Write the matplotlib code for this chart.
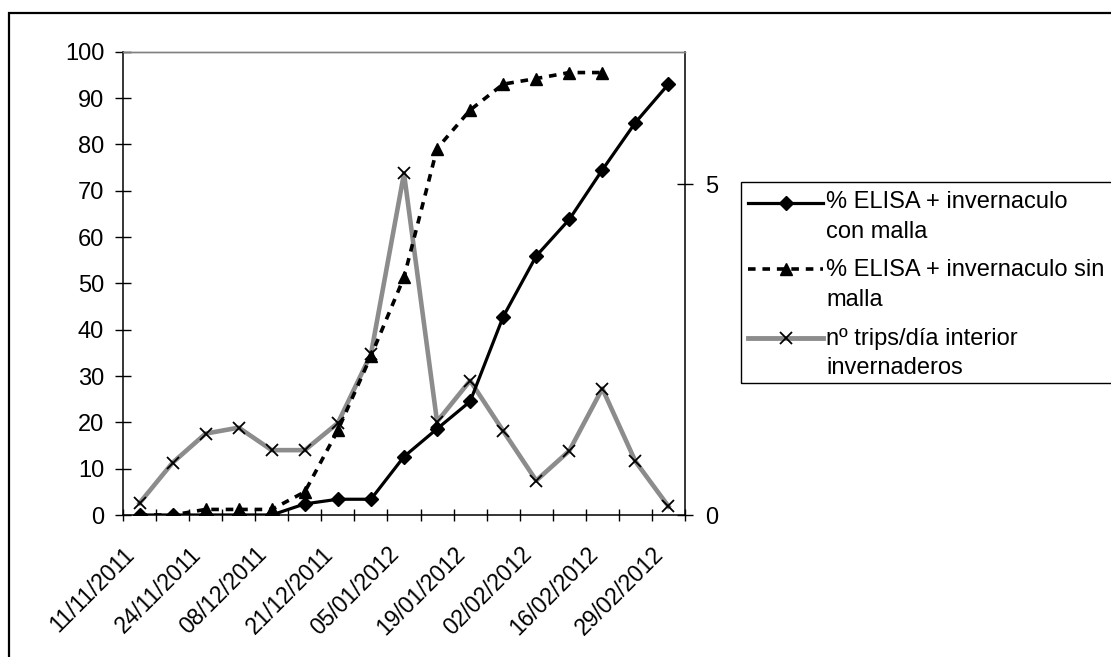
import matplotlib
matplotlib.use("Agg")
import matplotlib.pyplot as plt
from matplotlib.lines import Line2D
from matplotlib.patches import Rectangle
from matplotlib.transforms import ScaledTranslation

plt.rcParams['font.family'] = ['Liberation Sans', 'DejaVu Sans']

# ---- data ----
dates = ["11/11/2011", "17/11/2011", "24/11/2011", "01/12/2011", "08/12/2011",
         "15/12/2011", "21/12/2011", "28/12/2011", "05/01/2012", "12/01/2012",
         "19/01/2012", "26/01/2012", "02/02/2012", "09/02/2012", "16/02/2012",
         "23/02/2012", "29/02/2012"]
elisa_con_malla = [0, 0, 0, 0, 0, 2.4, 3.4, 3.4, 12.6, 18.6, 24.5, 42.8, 55.9,
                   63.8, 74.5, 84.7, 93.0]
elisa_sin_malla = [0, 0, 1.2, 1.2, 1.2, 5.0, 18.3, 34.3, 51.3, 79.1, 87.4, 93.0,
                   94.2, 95.5, 95.5]
trips_dia = [0.18, 0.79, 1.23, 1.32, 0.98, 0.98, 1.39, 2.43, 5.16, 1.41, 2.03,
             1.27, 0.52, 0.97, 1.91, 0.81, 0.13]
legend_lines = [["% ELISA + invernaculo", "con malla"],
                ["% ELISA + invernaculo sin", "malla"],
                ["nº trips/día interior", "invernaderos"]]

W, H = 1111, 657
fig = plt.figure(figsize=(W / 100, H / 100), dpi=100)
fig.patch.set_facecolor('white')

ax = fig.add_axes([123 / W, 1 - 515 / H, (685 - 123) / W, (515 - 51.7) / H])
ax2 = ax.twinx()
ax.set_zorder(ax2.get_zorder() + 1)
ax.patch.set_visible(False)

n = len(dates)
x = list(range(n))
GRAY = '#8c8c8c'
FS = 17
FS_X = 16.5

LW_SOLID, LW_DASH, LW_GRAY = 2.3, 2.6, 3.3
DASHES = [2.1, 1.9]
MS_D, MS_T, MS_X = 7.2, 9, 9

ax2.plot(x[:len(trips_dia)], trips_dia, color=GRAY, lw=LW_GRAY, marker='x',
         markersize=MS_X, markeredgecolor='black', markeredgewidth=1.3,
         solid_joinstyle='round')
l2, = ax.plot(x[:len(elisa_sin_malla)], elisa_sin_malla, color='black', lw=LW_DASH,
              marker='^', markersize=MS_T, markerfacecolor='black')
l2.set_dashes(DASHES)
ax.plot(x[:len(elisa_con_malla)], elisa_con_malla, color='black', lw=LW_SOLID,
        marker='D', markersize=MS_D, markerfacecolor='black')

ax.set_xlim(-0.5, n - 0.5)
ax.set_ylim(0, 100)
ax2.set_ylim(0, 7)
ax.set_yticks(range(0, 101, 10))
ax2.set_yticks([0, 5])

ax.set_xticks([i - 0.5 for i in range(n + 1)], minor=False)
ax.set_xticklabels([])
ax.set_xticks(x[::2], minor=True)
ax.set_xticklabels(dates[::2], minor=True, rotation=45, ha='right', va='top',
                   fontsize=FS_X, rotation_mode='default')
shift = ScaledTranslation(-9 / 100, 0, fig.dpi_scale_trans)
for lab in ax.get_xticklabels(minor=True):
    lab.set_transform(lab.get_transform() + shift)
ax.tick_params(axis='x', which='minor', length=0, pad=20)
ax.tick_params(axis='x', which='major', direction='inout', length=9, width=1)
ax.tick_params(axis='y', direction='inout', length=11, width=1, labelsize=FS, pad=8)
ax2.tick_params(axis='y', direction='inout', length=11, width=1, labelsize=FS, pad=9)
ax2.tick_params(axis='x', length=0)

for a in (ax, ax2):
    a.spines['top'].set_color('#808080')
    a.spines['top'].set_linewidth(1)
ax.spines['left'].set_linewidth(1.1)
ax.spines['bottom'].set_linewidth(1.1)
ax.spines['right'].set_visible(False)
ax2.spines['right'].set_linewidth(1.1)
ax2.spines['left'].set_visible(False)
ax2.spines['bottom'].set_visible(False)

# outer chart frame
fig.add_artist(Rectangle((9 / W, -0.1), 1.2, (1 - 13 / H) + 0.1,
                         transform=fig.transFigure, fill=False,
                         edgecolor='black', lw=1.6))

# legend (manual, box runs off the right edge as in the reference)
def fx(px):
    return px / W

def fy(py):
    return 1 - py / H

tf = fig.transFigure
fig.add_artist(Rectangle((fx(740.7), fy(383.3)), fx(1120) - fx(740.7),
                         fy(181.7) - fy(383.3), transform=tf,
                         fill=False, edgecolor='black', lw=1.0))
rows = [203.5, 269, 338]
hx0, hx1, hxm = 748, 823, 786
# entry 1
fig.add_artist(Line2D([fx(hx0), fx(hx1)], [fy(rows[0])] * 2, transform=tf,
                      color='black', lw=LW_SOLID))
fig.add_artist(Line2D([fx(hxm)], [fy(rows[0])], transform=tf,
                      color='black', marker='D', markersize=MS_D, lw=0))
# entry 2
le = Line2D([fx(hx0), fx(hx1)], [fy(rows[1])] * 2, transform=tf,
            color='black', lw=LW_DASH)
le.set_dashes(DASHES)
fig.add_artist(le)
fig.add_artist(Line2D([fx(hxm)], [fy(rows[1])], transform=tf,
                      color='black', marker='^', markersize=MS_T, lw=0))
# entry 3
fig.add_artist(Line2D([fx(hx0), fx(hx1)], [fy(rows[2])] * 2, transform=tf,
                      color=GRAY, lw=3.5))
fig.add_artist(Line2D([fx(hxm)], [fy(rows[2])], transform=tf,
                      color='black', marker='x', markersize=MS_X, markeredgewidth=1.3, lw=0))
baselines = [(208.5, 238.5), (276, 305.5), (345, 373.5)]
for (b1, b2), (t1, t2) in zip(baselines, legend_lines):
    fig.text(fx(826), fy(b1), t1, ha='left', va='baseline', fontsize=FS)
    fig.text(fx(826), fy(b2), t2, ha='left', va='baseline', fontsize=FS)

fig.savefig('out.png', dpi=100)
